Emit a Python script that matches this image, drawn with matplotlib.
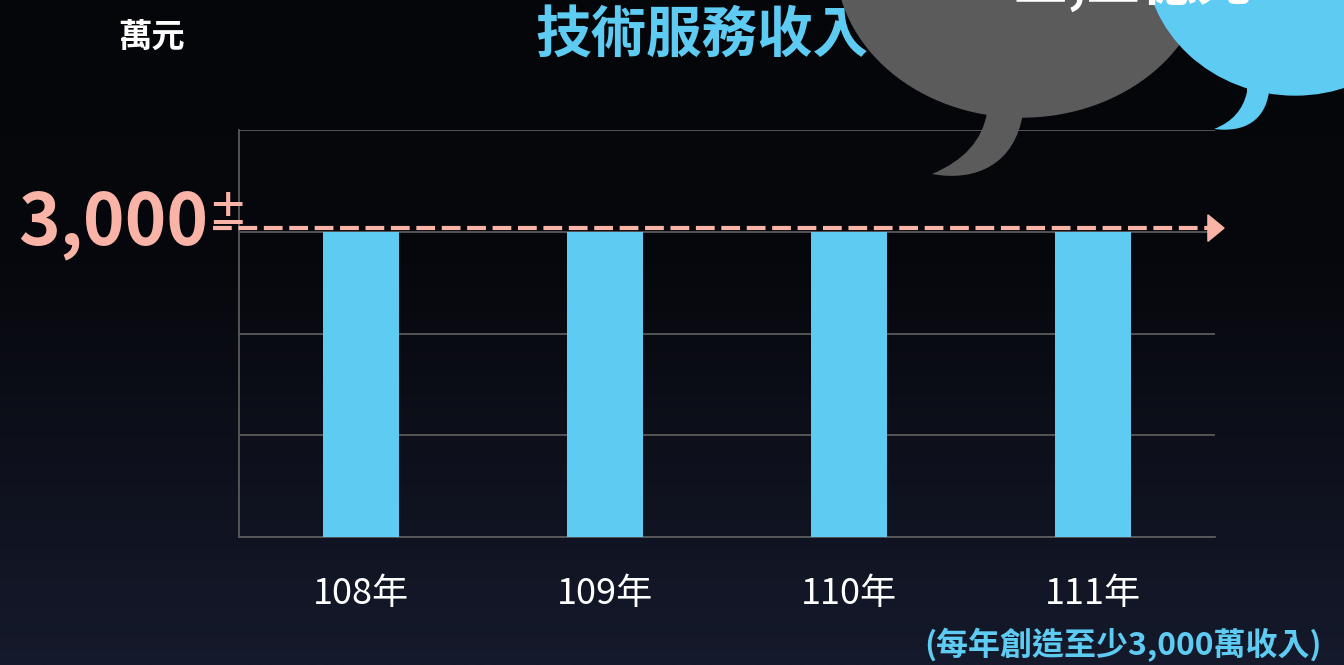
import matplotlib

matplotlib.use("Agg")
import matplotlib.pyplot as plt
import numpy as np
from matplotlib.colors import LinearSegmentedColormap
from matplotlib.patches import Ellipse, PathPatch, Polygon
from matplotlib.path import Path

plt.rcParams["font.family"] = ["Noto Sans CJK TC", "DejaVu Sans"]

# data
years = ["108年", "109年", "110年", "111年"]
revenue = [3000, 3000, 3000, 3000]  # 萬元
target = 3000
y_ticks = [0, 1000, 2000, 3000, 4000]

BLUE = "#5ECBF2"
SALMON = "#F9B4A7"
GRID = "#5a5a5a"

W, H = 1344, 665
fig = plt.figure(figsize=(W / 100, H / 100), dpi=100)

# background gradient
bg = fig.add_axes([0, 0, 1, 1], zorder=0)
grad = np.linspace(0, 1, 256).reshape(-1, 1)
cmap = LinearSegmentedColormap.from_list(
    "bg", [(0, "#050609"), (0.4, "#07080d"), (1, "#151a2c")]
)
bg.imshow(grad, aspect="auto", cmap=cmap, extent=[0, 1, 0, 1])
bg.axis("off")

# main bar chart
ax = fig.add_axes([239 / W, (H - 537) / H, 976 / W, 407 / H], zorder=2)
ax.patch.set_alpha(0)
x = np.arange(len(years))
ax.bar(x, revenue, width=0.315, color=BLUE, zorder=3)
ax.set_xlim(-0.5, len(years) - 0.5)
ax.set_ylim(y_ticks[0], y_ticks[-1])
ax.set_yticks(y_ticks)
ax.set_yticklabels([])
ax.set_xticks(x)
ax.set_xticklabels(years, color="white", fontsize=26)
ax.tick_params(length=0, pad=28)
ax.tick_params(axis="y", length=0)
ax.grid(axis="y", color=GRID, linewidth=1.3, zorder=1)
for s in ["top", "right"]:
    ax.spines[s].set_visible(False)
for s in ["left", "bottom"]:
    ax.spines[s].set_color(GRID)
    ax.spines[s].set_linewidth(1.3)

# dashed target line with arrow head
line_y = target * 1.012
ax.plot([-0.607, 3.48], [line_y, line_y], color=SALMON, lw=3,
        dashes=(4.5, 1.6), clip_on=False, zorder=5)
tip_x = 3.537
ax.add_patch(Polygon([[tip_x, line_y], [tip_x - 0.066, line_y + 130],
                      [tip_x - 0.066, line_y - 130]], closed=True,
                     color=SALMON, clip_on=False, zorder=5))

fig.text(18 / W, 1 - 224 / H, "3,000", color=SALMON, fontsize=51,
         fontweight="bold", va="center", ha="left")
fig.text(227 / W, 1 - 212 / H, "±", color=SALMON, fontsize=29,
         fontweight="bold", va="center", ha="center")

fig.text(152 / W, 1 - 37 / H, "萬元", color="white", fontsize=24,
         fontweight="bold", va="center", ha="center")
fig.text(702 / W, 1 - 37 / H, "技術服務收入", color=BLUE, fontsize=40,
         fontweight="bold", va="center", ha="center")
fig.text(1123 / W, 1 - 645 / H, "(每年創造至少3,000萬收入)", color=BLUE,
         fontsize=23, fontweight="bold", va="center", ha="center")

# speech bubbles (decoration, pixel coordinates)
ov = fig.add_axes([0, 0, 1, 1], zorder=4)
ov.set_xlim(0, W)
ov.set_ylim(H, 0)
ov.axis("off")
ov.patch.set_alpha(0)

GRAY = "#5b5b5b"
ov.add_patch(Ellipse((1022, -40), 372, 314, color=GRAY))
tail = Path(
    [(985, 100), (987, 113), (982, 140), (965, 160), (932, 174),
     (975, 182), (1015, 165), (1023, 113), (1022, 100), (985, 100)],
    [Path.MOVETO, Path.LINETO, Path.CURVE4, Path.CURVE4, Path.CURVE4,
     Path.CURVE4, Path.CURVE4, Path.CURVE4, Path.LINETO, Path.CLOSEPOLY],
)
ov.add_patch(PathPatch(tail, color=GRAY, lw=0))

ov.add_patch(Ellipse((1295, -45), 300, 280, color=BLUE))
btail = Path(
    [(1247, 85), (1247, 92), (1243, 110), (1232, 122), (1214, 129),
     (1245, 133), (1265, 120), (1269, 92), (1269, 85), (1247, 85)],
    [Path.MOVETO, Path.LINETO, Path.CURVE4, Path.CURVE4, Path.CURVE4,
     Path.CURVE4, Path.CURVE4, Path.CURVE4, Path.LINETO, Path.CLOSEPOLY],
)
ov.add_patch(PathPatch(btail, color=BLUE, lw=0))

ov.text(1013, 1, "三,三億元", color="white", fontsize=40, fontweight="bold",
        ha="left", va="baseline")

fig.savefig("out.png", dpi=100)
